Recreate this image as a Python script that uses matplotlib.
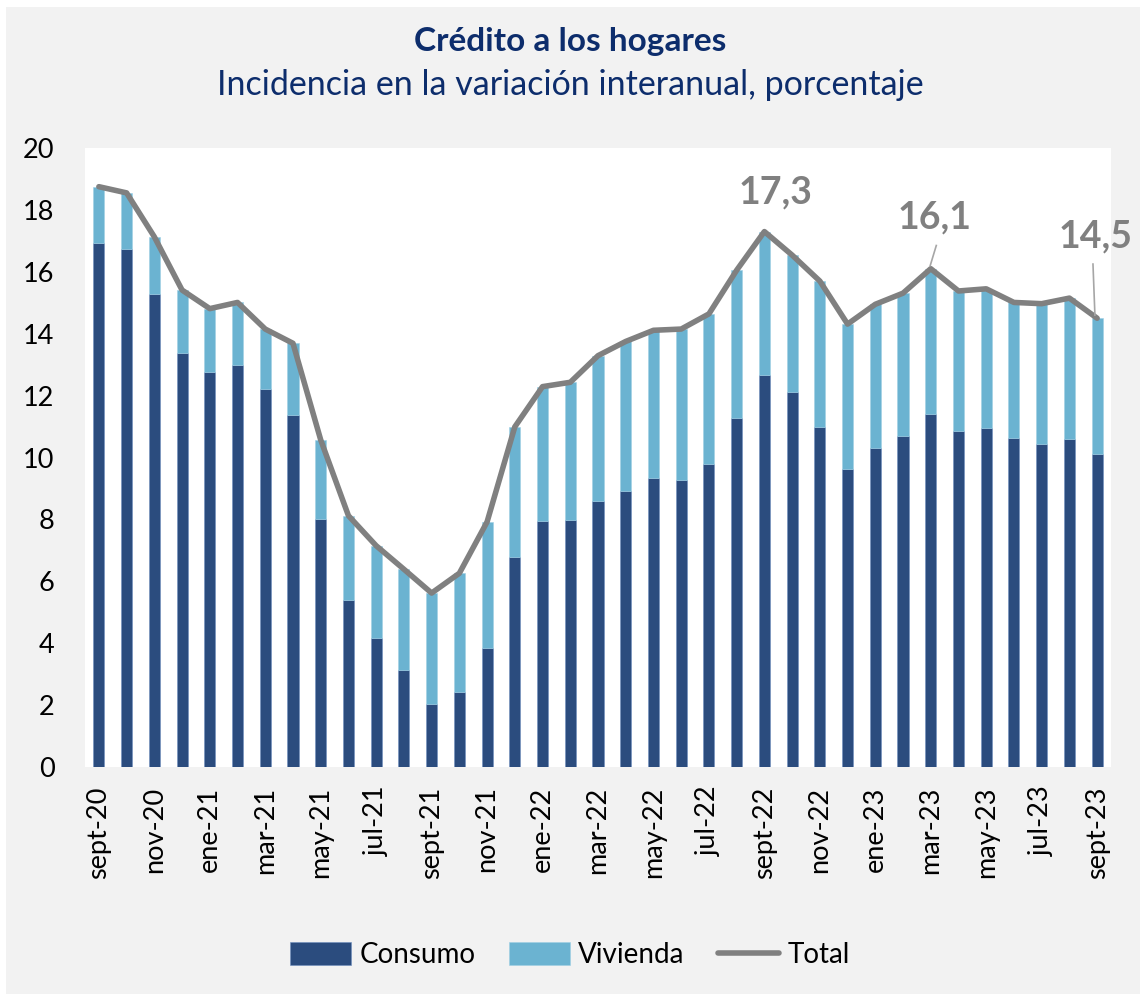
import numpy as np
import matplotlib.pyplot as plt
from matplotlib.patches import Rectangle

plt.rcParams['font.family'] = ['Lato', 'DejaVu Sans']

# meses sept-20 .. sept-23
meses = ['sept-20', 'oct-20', 'nov-20', 'dic-20', 'ene-21', 'feb-21', 'mar-21', 'abr-21',
         'may-21', 'jun-21', 'jul-21', 'ago-21', 'sept-21', 'oct-21', 'nov-21', 'dic-21',
         'ene-22', 'feb-22', 'mar-22', 'abr-22', 'may-22', 'jun-22', 'jul-22', 'ago-22',
         'sept-22', 'oct-22', 'nov-22', 'dic-22', 'ene-23', 'feb-23', 'mar-23', 'abr-23',
         'may-23', 'jun-23', 'jul-23', 'ago-23', 'sept-23']
consumo = [16.94, 16.74, 15.29, 13.38, 12.77, 12.98, 12.21, 11.37, 8.01, 5.41, 4.18, 3.12,
           2.04, 2.43, 3.86, 6.78, 7.96, 7.98, 8.61, 8.91, 9.34, 9.28, 9.80, 11.29,
           12.67, 12.11, 11.00, 9.62, 10.30, 10.70, 11.42, 10.86, 10.95, 10.64, 10.44, 10.60, 10.12]
total = [18.75, 18.55, 17.13, 15.41, 14.81, 15.01, 14.15, 13.69, 10.57, 8.12, 7.15, 6.39,
         5.62, 6.26, 7.92, 10.99, 12.29, 12.43, 13.29, 13.75, 14.11, 14.15, 14.64, 16.05,
         17.30, 16.54, 15.70, 14.31, 14.95, 15.31, 16.10, 15.38, 15.45, 15.01, 14.97, 15.15, 14.50]
vivienda = [t - c for t, c in zip(total, consumo)]

c_cons = '#2b4c7e'
c_viv = '#6bb3d1'
c_tot = '#808080'
navy = '#0d2d6c'

fig = plt.figure(figsize=(11.4, 9.94), dpi=100, facecolor='white')
fig.patches.append(Rectangle((6 / 1140, 0), 1, 1 - 7 / 994, transform=fig.transFigure,
                             facecolor='#f2f2f2', edgecolor='none', zorder=-10))
ax = fig.add_axes([85 / 1140, 1 - 767 / 994, 1026 / 1140, 619 / 994])
ax.set_facecolor('white')

x = np.arange(len(meses))
b1 = ax.bar(x, consumo, width=0.4, color=c_cons, edgecolor='#6f8fbf', linewidth=0.4,
            label='Consumo', zorder=2)
b2 = ax.bar(x, vivienda, width=0.4, bottom=consumo, color=c_viv, edgecolor='#9fd0e4',
            linewidth=0.4, label='Vivienda', zorder=2)
l1, = ax.plot(x, total, color=c_tot, lw=4, solid_joinstyle='round', solid_capstyle='round',
              label='Total', zorder=3)

ax.set_xlim(-0.5, len(meses) - 0.5)
ax.set_ylim(0, 20)
ax.set_yticks(np.arange(0, 21, 2))
ax.set_xticks(x[::2])
ax.set_xticklabels(meses[::2], rotation=90, fontsize=19.5)
ax.tick_params(axis='y', labelsize=19.5, length=0, pad=22)
ax.tick_params(axis='x', length=0, pad=14)
for s in ax.spines.values():
    s.set_visible(False)

# valores destacados
ax.text(24.4, 18.55, '17,3', ha='center', va='center', fontsize=27, fontweight='bold', color=c_tot)
ax.text(30.15, 17.75, '16,1', ha='center', va='center', fontsize=27, fontweight='bold', color=c_tot)
ax.text(35.95, 17.15, '14,5', ha='center', va='center', fontsize=27, fontweight='bold', color=c_tot)
ax.plot([30.2, 29.98], [16.85, 16.2], color='#a6a6a6', lw=1.2, zorder=4)
ax.plot([35.85, 35.92], [16.25, 14.6], color='#a6a6a6', lw=1.2, zorder=4)

fig.text(0.5, 1 - 42 / 994, 'Crédito a los hogares', ha='center', va='center',
         fontsize=24, fontweight='bold', color=navy)
fig.text(0.5, 1 - 85 / 994, 'Incidencia en la variación interanual, porcentaje', ha='center',
         va='center', fontsize=24.5, color=navy)

fig.legend([b1, b2, l1], ['Consumo', 'Vivienda', 'Total'], loc='center',
           bbox_to_anchor=(0.5, 1 - 955 / 994), ncol=3, frameon=False,
           fontsize=20, handlelength=2.2, handleheight=0.9, columnspacing=1.2, handletextpad=0.3)

plt.savefig('out.png', dpi=100, facecolor=fig.get_facecolor())
plt.close()
